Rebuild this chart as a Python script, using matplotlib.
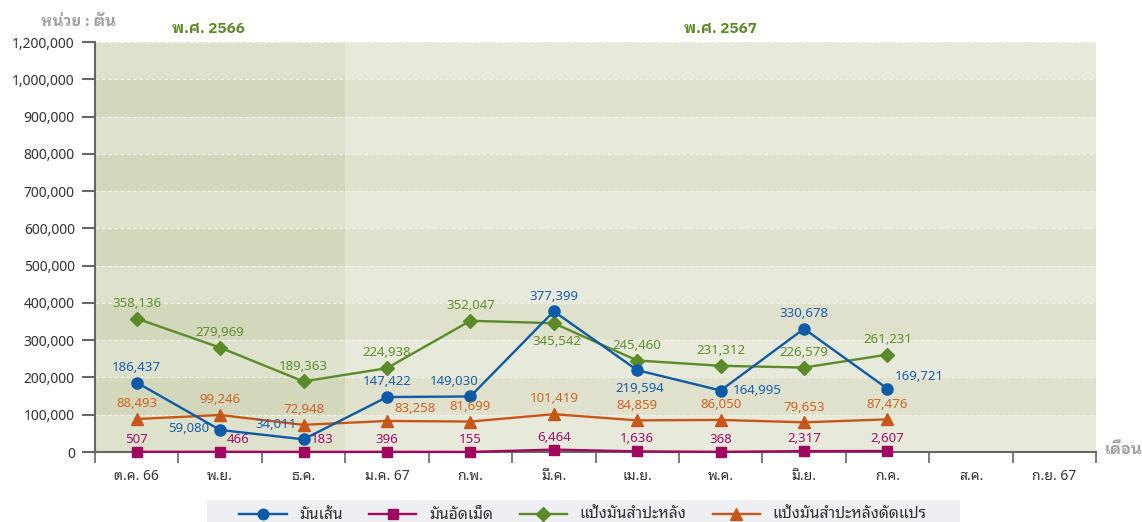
import matplotlib
matplotlib.use("Agg")
import matplotlib.pyplot as plt
from matplotlib.lines import Line2D
from matplotlib.patches import Rectangle
import numpy as np

plt.rcParams['font.family'] = ['Noto Sans', 'Noto Sans Thai Looped']
bold_fam = ['IBM Plex Sans Thai Looped', 'DejaVu Sans']

# data
months = ['ต.ค. 66', 'พ.ย.', 'ธ.ค.', 'ม.ค. 67', 'ก.พ.', 'มี.ค.', 'เม.ย.',
          'พ.ค.', 'มิ.ย.', 'ก.ค.', 'ส.ค.', 'ก.ย. 67']
series_names = ['มันเส้น', 'มันอัดเม็ด', 'แป้งมันสำปะหลัง', 'แป้งมันสำปะหลังดัดแปร']
man_sen = [186437, 59080, 34011, 147422, 149030, 377399, 219594, 164995, 330678, 169721]
man_at_med = [507, 466, 183, 396, 155, 6464, 1636, 368, 2317, 2607]
paeng = [358136, 279969, 189363, 224938, 352047, 345542, 245460, 231312, 226579, 261231]
paeng_dat = [88493, 99246, 72948, 83258, 81699, 101419, 84859, 86050, 79653, 87476]
ytick_vals = [0, 100000, 200000, 300000, 400000, 500000, 600000, 700000,
              800000, 900000, 1000000, 1100000]
ytick_labels = ['0', '100,000', '200,000', '300,000', '400,000', '500,000', '600,000',
                '700,000', '800,000', '900,000', '1,000,000', '1,200,000']

# label placement per point: a=above, b=below, l=left, r=right, ra=right-above, la=left-above
place_sen = ['a', 'l', 'la', 'a', 'al', 'a', 'b', 'r', 'a', 'ra']
place_med = ['a', 'ra', 'ra', 'a', 'a', 'a', 'a', 'a', 'a', 'a']
place_paeng = ['a', 'a', 'a', 'a', 'a', 'b', 'a', 'a', 'a', 'a']
place_dat = ['a', 'a', 'a', 'ra', 'a', 'a', 'a', 'a', 'a', 'a']

fig = plt.figure(figsize=(11.42, 5.22), dpi=100)
ax = fig.add_axes([95 / 1142, 1 - 452 / 522, (1096 - 95) / 1142, 410 / 522])

# background bands
for k in range(11):
    dark = k % 2 == 1
    ax.axhspan(k * 1e5, (k + 1) * 1e5, xmin=0, xmax=0.25,
               color='#d3d7bc' if dark else '#dee1cc', lw=0, zorder=0)
    ax.axhspan(k * 1e5, (k + 1) * 1e5, xmin=0.25, xmax=1,
               color='#dfe1cd' if dark else '#e7e9da', lw=0, zorder=0)
for v in ytick_vals[1:]:
    ax.axhline(v, color='#f2f2ea', lw=0.9, ls=(0, (3, 2)), zorder=1)

x = np.arange(len(man_sen))
styles = [
    (man_sen, '#0d5aa7', '#1a5fae', 'o', 8, place_sen),
    (man_at_med, '#a0085f', '#a3106a', 's', 7.5, place_med),
    (paeng, '#5b8a29', '#5f8f2c', 'D', 7.5, place_paeng),
    (paeng_dat, '#c8561a', '#cf6424', '^', 8.5, place_dat),
]
order = [3, 0, 2, 1]
handles = []
for i, (vals, lc, tc, mk, ms, place) in enumerate(styles):
    ax.plot(x, vals, color=lc, lw=1.7, marker=mk, ms=ms, clip_on=False, zorder=4 + order[i])
    handles.append(Line2D([], [], color=lc, lw=1.7, marker=mk, ms=ms * 0.95))
    up = 9 if mk == 's' else 11
    for xi, v, p in zip(x, vals, place):
        if p == 'a':
            off, ha = (0, up), 'center'
        elif p == 'al':
            off, ha = (-12, up), 'center'
        elif p == 'b':
            off, ha = (2, -13), 'center'
        elif p == 'l':
            off, ha = (-8, 1), 'right'
        elif p == 'la':
            off, ha = (-5, 11), 'right'
        elif p == 'r':
            off, ha = (9, 0), 'left'
        else:
            off, ha = (5, 9), 'left'
        ax.annotate(f'{v:,}', (xi, v), xytext=off, textcoords='offset points',
                    ha=ha, va='center', color=tc, fontsize=9.5, zorder=10)

ax.set_xlim(-0.5, 11.5)
ax.set_ylim(0, 1100000)
ax.set_yticks(ytick_vals)
ax.set_yticklabels(ytick_labels)
ax.set_xticks(np.arange(12))
ax.set_xticklabels(months)
ax.set_xticks(np.arange(-0.5, 12, 1), minor=True)
ax.tick_params(axis='x', which='major', length=0, pad=12, labelsize=10, labelcolor='#333333')
ax.tick_params(axis='x', which='minor', length=8, width=1.2, color='#666666')
ax.tick_params(axis='y', length=9.5, width=1.5, color='#666666', labelsize=10,
               labelcolor='#333333', pad=5)
for s in ['top', 'right']:
    ax.spines[s].set_visible(False)
for s in ['left', 'bottom']:
    ax.spines[s].set_color('#666666')
    ax.spines[s].set_linewidth(1.5)

fig.text(41 / 1142, 1 - 22 / 522, 'หน่วย : ตัน', color='#a0a0a0', fontsize=11,
         fontweight='bold', family=bold_fam, va='center')
fig.text(208 / 1142, 1 - 29 / 522, 'พ.ศ. 2566', color='#5b8a29', fontsize=11,
         fontweight='bold', family=bold_fam, ha='center', va='center')
fig.text(721 / 1142, 1 - 29 / 522, 'พ.ศ. 2567', color='#5b8a29', fontsize=11,
         fontweight='bold', family=bold_fam, ha='center', va='center')
fig.text(1105 / 1142, 1 - 450 / 522, 'เดือน', color='#a0a0a0', fontsize=11,
         fontweight='bold', family=bold_fam, va='center')

# legend strip
fig.patches.append(Rectangle((207 / 1142, 0), (960 - 207) / 1142, 22 / 522,
                             transform=fig.transFigure, facecolor='#eeeff2',
                             edgecolor='none', zorder=0))
leg = fig.legend(handles, series_names, loc='center', bbox_to_anchor=(583 / 1142, 1 - 515 / 522),
                 ncol=4, frameon=False, fontsize=11.3, handlelength=3.0,
                 columnspacing=1.7, handletextpad=0.8, borderpad=0.3, labelcolor='#333333')

fig.savefig('out.png')
